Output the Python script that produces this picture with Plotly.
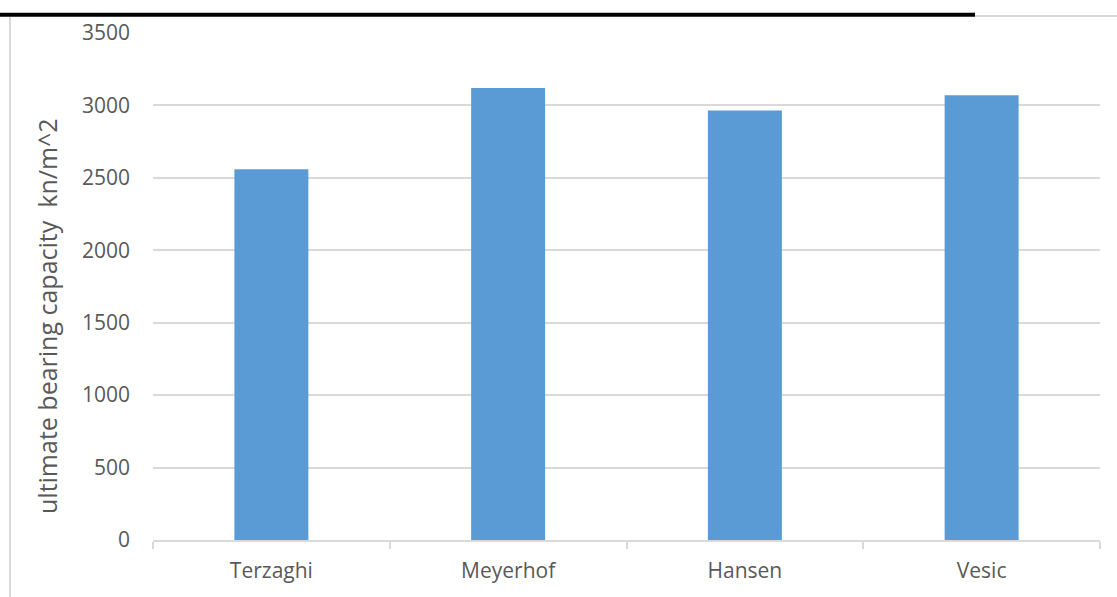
import plotly.graph_objects as go

# Ultimate bearing capacity by method
methods = ["Terzaghi", "Meyerhof", "Hansen", "Vesic"]
capacity = [2560, 3120, 2965, 3070]
y_ticks = [0, 500, 1000, 1500, 2000, 2500, 3000, 3500]

W, H = 1117, 597
L, R, T, B = 153, 17, 33, 57
pw, ph = W - L - R, H - T - B


def px(x):
    return (x - L) / pw


def py(y):
    return (H - B - y) / ph


fig = go.Figure(
    go.Bar(
        x=methods,
        y=capacity,
        marker=dict(color="#5B9BD5", line=dict(width=0)),
        hoverinfo="x+y",
    )
)

text_color = "#595959"
grid_color = "#D9D9D9"
font_family = "Open Sans, Segoe UI, sans-serif"

fig.update_layout(
    width=W,
    height=H,
    margin=dict(l=L, r=R, t=T, b=B, autoexpand=False),
    paper_bgcolor="white",
    plot_bgcolor="white",
    bargap=0.6875,
    showlegend=False,
    font=dict(family=font_family, size=21, color=text_color),
    xaxis=dict(
        showgrid=False,
        showline=True,
        linecolor=grid_color,
        linewidth=1.5,
        ticks="outside",
        tickson="boundaries",
        ticklen=7,
        tickcolor=grid_color,
        tickwidth=1.5,
        ticklabelstandoff=11,
        tickfont=dict(size=21, color=text_color),
    ),
    yaxis=dict(
        range=[0, 3500],
        tickvals=y_ticks,
        showgrid=True,
        gridcolor=grid_color,
        gridwidth=1.5,
        zeroline=False,
        showline=False,
        ticks="",
        ticklabelstandoff=22,
        tickfont=dict(size=21, color=text_color),
    ),
    annotations=[
        dict(
            text="ultimate bearing capacity  kn/m^2",
            textangle=-90,
            xref="paper",
            yref="paper",
            x=px(47),
            y=py(316),
            xanchor="center",
            yanchor="middle",
            showarrow=False,
            font=dict(family=font_family, size=25, color=text_color),
        )
    ],
    shapes=[
        # heavy rule across the top
        dict(type="line", xref="paper", yref="paper",
             x0=px(0), x1=px(975), y0=py(14.7), y1=py(14.7),
             line=dict(color="black", width=4)),
        dict(type="line", xref="paper", yref="paper",
             x0=px(975), x1=px(W), y0=py(16), y1=py(16),
             line=dict(color=grid_color, width=2)),
        # left frame edge
        dict(type="line", xref="paper", yref="paper",
             x0=px(10), x1=px(10), y0=py(17), y1=py(H),
             line=dict(color=grid_color, width=2)),
    ],
)

fig.write_html("out.html")
